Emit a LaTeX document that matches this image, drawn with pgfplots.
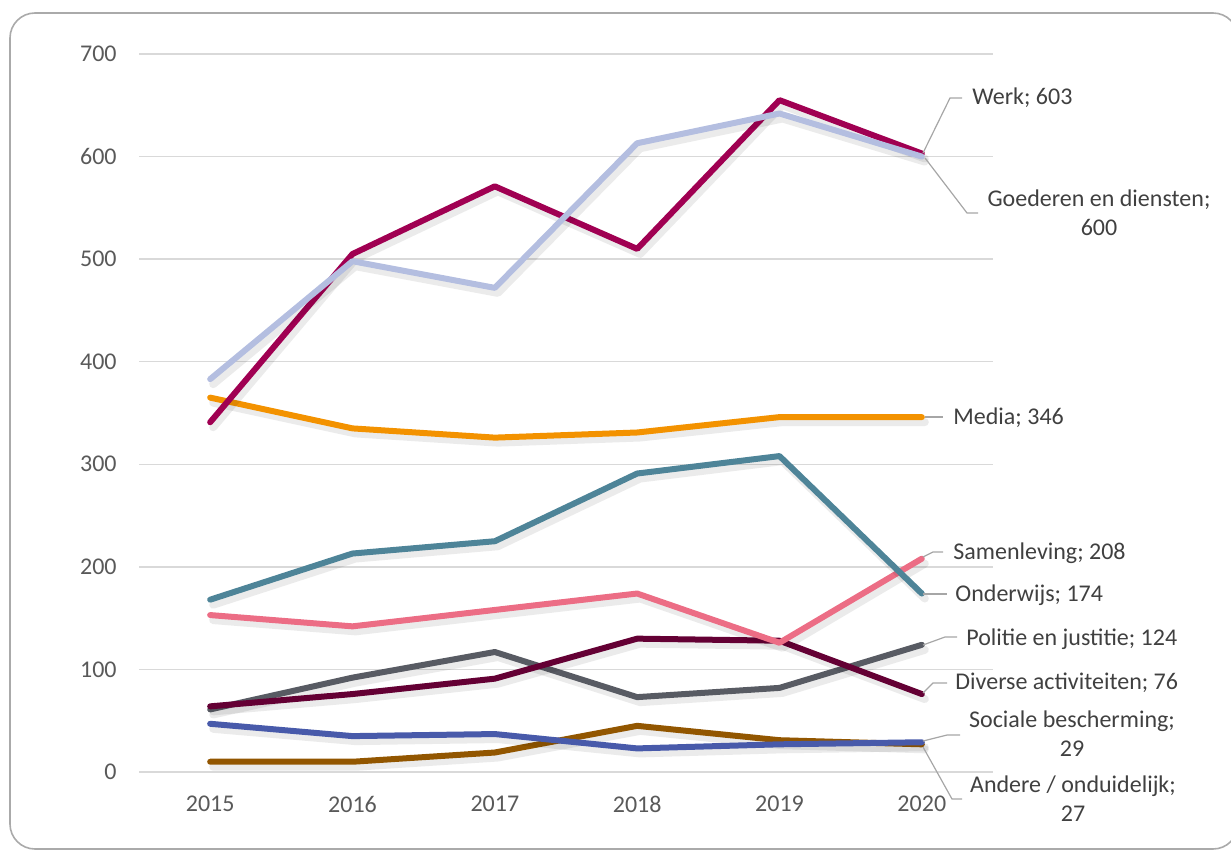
\documentclass[border=0pt]{standalone}
\usepackage{pgfplots}
\pgfplotsset{compat=1.18}
\usepackage{fontspec}
\setmainfont{Carlito}
\definecolor{framec}{RGB}{170,170,170}
\definecolor{gridc}{RGB}{217,217,217}
\definecolor{tickc}{RGB}{89,89,89}
\definecolor{labc}{RGB}{64,64,64}
\definecolor{leadc}{RGB}{166,166,166}
\definecolor{cWerk}{RGB}{160,0,82}
\definecolor{cGoed}{RGB}{180,190,224}
\definecolor{cMedia}{RGB}{243,146,0}
\definecolor{cOnd}{RGB}{78,132,152}
\definecolor{cSam}{RGB}{236,109,133}
\definecolor{cPol}{RGB}{88,91,99}
\definecolor{cDiv}{RGB}{100,0,52}
\definecolor{cSoc}{RGB}{72,90,170}
\definecolor{cAnd}{RGB}{146,86,0}
\begin{document}
\begin{tikzpicture}[font=\fontsize{12}{14.5}\selectfont]
\begin{scope}[x=0.5pt,y=-0.5pt]
\useasboundingbox (0,0) rectangle (1231,850);
\begin{scope}
\clip (0,0) rectangle (1231,850);
\draw[framec, line width=0.8pt, rounded corners=12.5pt] (10,13) rectangle (1238,849);
\end{scope}
\end{scope}
\begin{axis}[at={(69.5pt,-386pt)}, anchor=south west, scale only axis,
  width=427pt, height=359pt,
  xmin=2014.5, xmax=2020.5, ymin=0, ymax=700,
  xtick={2015,2016,2017,2018,2019,2020},
  ytick={0,100,200,300,400,500,600,700},
  ymajorgrids, grid style={gridc, line width=0.75pt},
  axis line style={draw=none}, major tick length=0pt,
  tick label style={text=tickc},
  xticklabel style={inner sep=0pt, anchor=north, yshift=-12pt},
  yticklabel style={inner sep=0pt, anchor=east, xshift=-11pt},
  /pgf/number format/assume math mode=true,
  /pgf/number format/set thousands separator={},
  clip=false,
  every axis plot/.append style={line width=3pt, line cap=round, line join=round,
    preaction={draw=black, draw opacity=0.08, line width=4pt, transform canvas={xshift=1.5pt,yshift=-2.5pt}}}]
\addplot[cAnd] coordinates {(2015,10) (2016,10) (2017,19) (2018,45) (2019,31) (2020,27)};
\addplot[cSoc] coordinates {(2015,47) (2016,35) (2017,37) (2018,23) (2019,27) (2020,29)};
\addplot[cPol] coordinates {(2015,61) (2016,92) (2017,117) (2018,73) (2019,82) (2020,124)};
\addplot[cDiv] coordinates {(2015,64) (2016,76) (2017,91) (2018,130) (2019,128) (2020,76)};
\addplot[cSam] coordinates {(2015,153) (2016,142) (2017,158) (2018,174) (2019,126) (2020,208)};
\addplot[cOnd] coordinates {(2015,168) (2016,213) (2017,225) (2018,291) (2019,308) (2020,174)};
\addplot[cMedia] coordinates {(2015,365) (2016,335) (2017,326) (2018,331) (2019,346) (2020,346)};
\addplot[cWerk] coordinates {(2015,341) (2016,505) (2017,571) (2018,510) (2019,655) (2020,603)};
\addplot[cGoed] coordinates {(2015,383) (2016,498) (2017,472) (2018,613) (2019,642) (2020,600)};
\end{axis}
\begin{scope}[x=0.5pt,y=-0.5pt]
\draw[leadc, line width=0.6pt] (923,153) -- (950,98) -- (962,98);
\node[anchor=west, inner sep=0pt, text=labc] at (972,98) {Werk; 603};
\draw[leadc, line width=0.6pt] (925,158) -- (967,213) -- (978,213);
\node[anchor=center, inner sep=0pt, text=labc, align=center] at (1099,213) {Goederen en diensten;\\600};
\draw[leadc, line width=0.6pt] (925,417) -- (943,417);
\node[anchor=west, inner sep=0pt, text=labc] at (953,418) {Media; 346};
\draw[leadc, line width=0.6pt] (923,557) -- (933,552) -- (943,552);
\node[anchor=west, inner sep=0pt, text=labc] at (953,553) {Samenleving; 208};
\draw[leadc, line width=0.6pt] (923,594) -- (947,594);
\node[anchor=west, inner sep=0pt, text=labc] at (955,595) {Onderwijs; 174};
\draw[leadc, line width=0.6pt] (923,645) -- (945,637) -- (957,637);
\node[anchor=west, inner sep=0pt, text=labc] at (966,639) {Politie en justitie; 124};
\draw[leadc, line width=0.6pt] (923,693) -- (933,683) -- (947,683);
\node[anchor=west, inner sep=0pt, text=labc] at (955,683) {Diverse activiteiten; 76};
\draw[leadc, line width=0.6pt] (923,741) -- (947,735) -- (960,735);
\node[anchor=center, inner sep=0pt, text=labc, align=center] at (1072,734) {Sociale bescherming;\\29};
\draw[leadc, line width=0.6pt] (923,747) -- (952,799) -- (962,799);
\node[anchor=center, inner sep=0pt, text=labc, align=center] at (1073,799) {Andere / onduidelijk;\\27};
\end{scope}
\end{tikzpicture}
\end{document}
